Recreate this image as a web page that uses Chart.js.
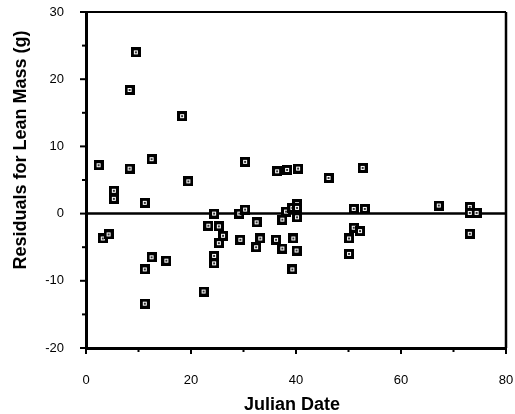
<!DOCTYPE html>
<html>
<head>
<meta charset="utf-8">
<script src="https://cdn.jsdelivr.net/npm/chart.js@4/dist/chart.umd.min.js"></script>
<style>
  html, body { margin: 0; padding: 0; background: #fff; }
</style>
</head>
<body>
<canvas id="residualChart" width="515" height="414"></canvas>
<script>
// data
const julianDate = [
  2.4, 3.2, 4.3, 5.3, 5.3, 8.3, 8.3, 9.5, 11.2, 11.2,
  11.2, 12.5, 12.5, 15.3, 18.3, 19.5, 22.4, 23.3, 24.4, 25.3,
  26.1, 25.3, 24.4, 24.4, 29.2, 30.3, 30.3, 29.4, 32.5, 33.2,
  32.4, 36.4, 36.2, 37.4, 37.4, 38.1, 38.3, 39.3, 39.5, 39.3,
  40.4, 40.2, 40.2, 40.2, 40.1, 46.2, 50.1, 50.1, 51.0, 51.0,
  52.2, 52.7, 53.1, 67.2, 73.1, 73.1, 74.4, 73.1
];
const residuals = [
  7.2, -3.7, -3.1, 3.4, 2.2, 18.4, 6.7, 24.0, 1.6, -8.3,
  -13.4, 8.1, -6.5, -7.0, 14.5, 4.8, -11.6, -1.8, 0.0, -1.9,
  -3.3, -4.4, -6.3, -7.4, 0.0, 0.6, 7.7, -3.9, -1.3, -3.7,
  -5.0, 6.3, -3.9, -5.2, -0.9, 0.3, 6.5, 0.85, -3.7, -8.3,
  6.7, 1.4, 0.85, -0.55, -5.5, 5.3, -3.7, -6.0, 0.7, -2.1,
  -2.6, 6.8, 0.7, 1.2, 1.0, 0.1, 0.1, -3.0
];
const xRange = [0, 80];
const yRange = [-20, 30];
const xMajorStep = 20, xMinorStep = 10;
const yMajorStep = 10, yMinorStep = 5;

const FONT = "'Liberation Sans', Arial, sans-serif";

// square marker: black box with a small hollow centre
function makeMarker() {
    const c = document.createElement('canvas');
    c.width = 10; c.height = 10;
    const g = c.getContext('2d');
    g.fillStyle = '#000';
    g.fillRect(0, 0, 10, 10);
    g.fillStyle = '#fff';
    g.fillRect(3, 3, 4, 4);
    g.fillStyle = '#333';
    g.fillRect(4, 4, 2, 2);
    return c;
}

// zero line + frame + tick marks + axis titles
const decorPlugin = {
    id: 'decor',
    beforeDatasetsDraw(chart) {
        const ctx = chart.ctx;
        const area = chart.chartArea;
        const x = chart.scales.x, y = chart.scales.y;
        ctx.save();
        ctx.strokeStyle = '#000';
        // zero line
        ctx.lineWidth = 2.5;
        const y0 = y.getPixelForValue(0);
        ctx.beginPath();
        ctx.moveTo(area.left, y0);
        ctx.lineTo(area.right, y0);
        ctx.stroke();
        // top and right frame
        ctx.lineWidth = 2;
        ctx.beginPath();
        ctx.moveTo(area.left, area.top);
        ctx.lineTo(area.right, area.top);
        ctx.stroke();
        ctx.lineWidth = 2.5;
        ctx.beginPath();
        ctx.moveTo(area.right, area.top);
        ctx.lineTo(area.right, area.bottom);
        ctx.stroke();
        // tick marks (outside)
        ctx.lineWidth = 2;
        for (let v = xRange[0]; v <= xRange[1]; v += xMinorStep) {
            const px = x.getPixelForValue(v);
            const len = (v % xMajorStep === 0) ? 6 : 4;
            ctx.beginPath();
            ctx.moveTo(px, area.bottom);
            ctx.lineTo(px, area.bottom + len);
            ctx.stroke();
        }
        for (let v = yRange[0]; v <= yRange[1]; v += yMinorStep) {
            const py = y.getPixelForValue(v);
            const len = (v % yMajorStep === 0) ? 6 : 4;
            ctx.beginPath();
            ctx.moveTo(area.left, py);
            ctx.lineTo(area.left - len, py);
            ctx.stroke();
        }
        ctx.restore();
    },
    afterDraw(chart) {
        const ctx = chart.ctx;
        ctx.save();
        ctx.fillStyle = '#000';
        ctx.font = 'bold 18px ' + FONT;
        ctx.textAlign = 'center';
        ctx.textBaseline = 'alphabetic';
        ctx.fillText('Julian Date', 292, 410);
        ctx.translate(26, 150);
        ctx.rotate(-Math.PI / 2);
        ctx.fillText('Residuals for Lean Mass (g)', 0, 0);
        ctx.restore();
    }
};

const points = julianDate.map((d, i) => ({ x: d, y: residuals[i] }));

new Chart(document.getElementById('residualChart'), {
    type: 'scatter',
    data: {
        datasets: [{
            data: points,
            pointStyle: makeMarker(),
            pointRadius: 5,
            pointHoverRadius: 5
        }]
    },
    options: {
        responsive: false,
        animation: false,
        layout: { padding: { top: 12, right: 9, left: 0, bottom: 0 } },
        plugins: {
            legend: { display: false },
            tooltip: { enabled: false }
        },
        scales: {
            x: {
                type: 'linear',
                min: xRange[0],
                max: xRange[1],
                grid: { display: false },
                border: { display: true, color: '#000', width: 3 },
                ticks: {
                    stepSize: xMajorStep,
                    padding: 17,
                    color: '#000',
                    font: { family: FONT, size: 13 }
                },
                afterFit(scale) {
                    scale.height = 66;
                    scale.paddingLeft = 0;
                    scale.paddingRight = 0;
                }
            },
            y: {
                type: 'linear',
                min: yRange[0],
                max: yRange[1],
                grid: { display: false },
                border: { display: true, color: '#000', width: 3 },
                ticks: {
                    stepSize: yMajorStep,
                    padding: 14,
                    color: '#000',
                    font: { family: FONT, size: 13 }
                },
                afterFit(scale) {
                    scale.width = 86;
                    scale.paddingTop = 0;
                    scale.paddingBottom = 0;
                }
            }
        }
    },
    plugins: [decorPlugin]
});
</script>
</body>
</html>
